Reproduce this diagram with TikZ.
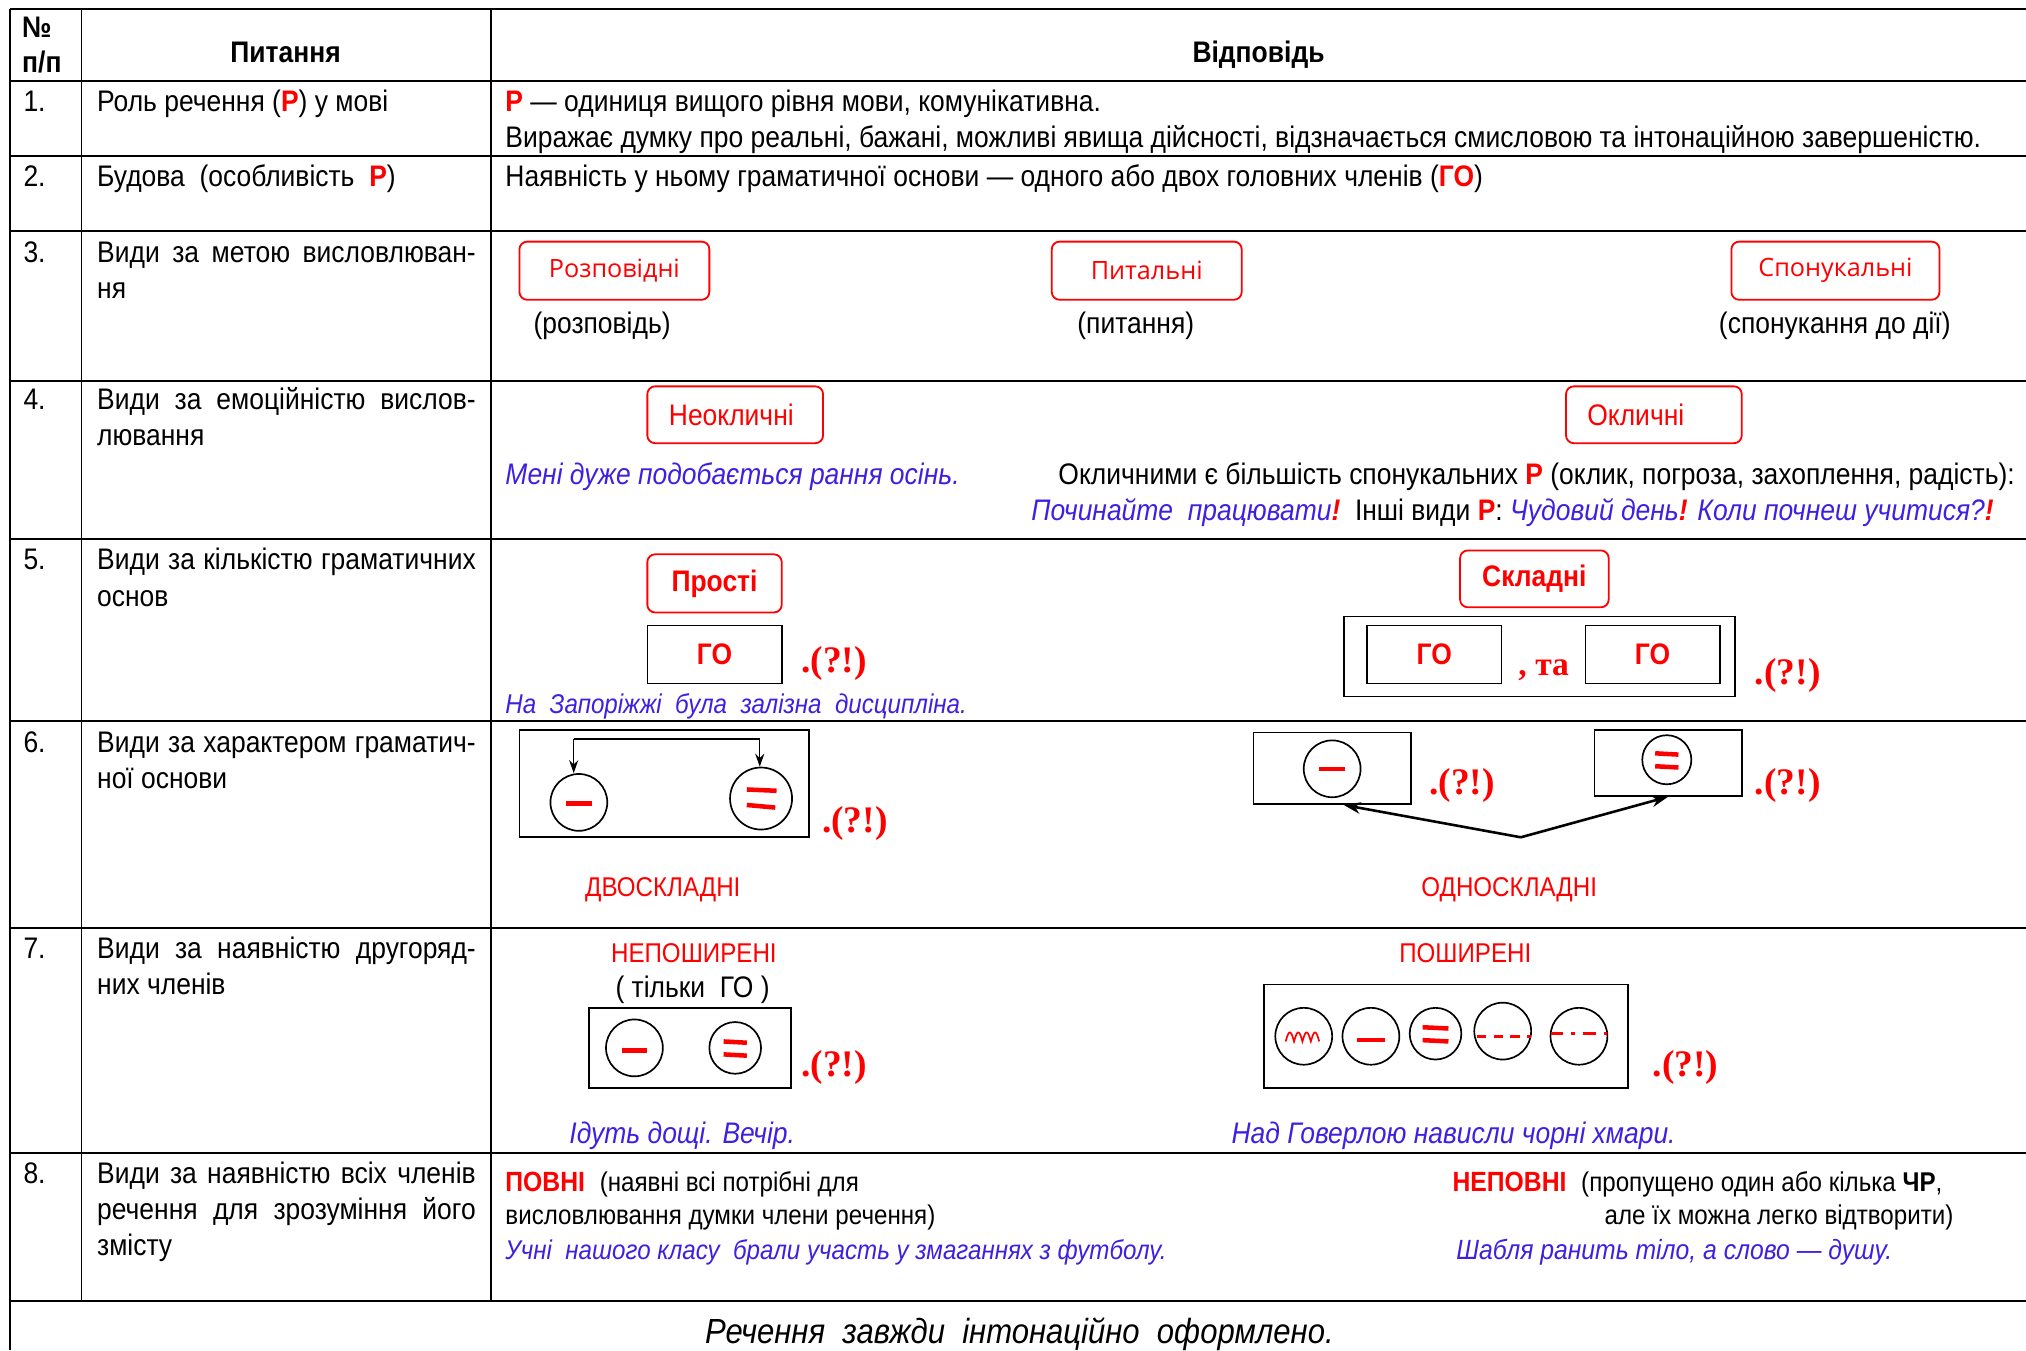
\documentclass[tikz,border=0pt]{standalone}
\usepackage{fontspec}
\setmainfont{Liberation Sans}[FakeStretch=0.89]
\newfontfamily\boxfont{Open Sans}
\newfontfamily\qserif{Liberation Serif}
\usetikzlibrary{arrows.meta}
\definecolor{myred}{RGB}{255,0,0}
\definecolor{myblue}{RGB}{64,32,224}
\newcommand\fm{\fontsize{23}{28}\selectfont}
\newcommand\fsm{\fontsize{21}{25}\selectfont}
\newcommand\flab{\fontsize{21}{25}\selectfont}
\newcommand\qfont{\qserif\bfseries\fontsize{29}{34}\selectfont}
\newcommand\Rb[1]{\textcolor{myred}{\bfseries #1}}
\newcommand\Bi[1]{\textcolor{myblue}{\itshape #1}}
\newcommand\Ri[1]{\textcolor{myred}{\bfseries\itshape #1}}
\newcommand\J[1]{\makebox[293pt][s]{#1}}
\begin{document}
\begin{tikzpicture}[x=1pt,y=-1pt,
  t/.style={anchor=base west, inner sep=0pt, font=\fm},
  tc/.style={anchor=base, inner sep=0pt, font=\fm},
  rbox/.style={draw=myred, line width=1.4pt, rounded corners=6pt, inner sep=0pt, font=\fm, text=myred},
  blk/.style={draw=black, line width=1.3pt, inner sep=0pt},
  circ/.style={draw=black, line width=1.3pt, circle, inner sep=0pt},
  redln/.style={draw=myred, line width=3.5pt},
  qq/.style={anchor=base west, inner sep=0pt, text=myred, font=\qfont},
  gridln/.style={line width=1.6pt},
  thinarr/.style={line width=1pt, -{Stealth[length=10pt,width=7pt]}},
  thickarr/.style={line width=2pt, -{Stealth[length=13pt,width=9pt]}}]
\useasboundingbox (0,0) rectangle (1568,1045);
\fill[white] (0,0) rectangle (1568,1045);
% grid
\foreach \yy in {7,63,121,179,295,417,558,718,892,1007}
  \draw[gridln] (8,\yy) -- (1568,\yy);
\draw[gridln] (8,7) -- (8,1045);
\draw[line width=1.2pt] (63,7) -- (63,1007);
\draw[gridln] (380,7) -- (380,1007);
% header
\node[t,font=\fm\bfseries] (hn1) at (17,29) {№};
\node[t,font=\fm\bfseries] (hn2) at (17,56) {п/п};
\node[tc,font=\fm\bfseries] (hq) at (221,48) {Питання};
\node[tc,font=\fm\bfseries] (ha) at (974,48) {Відповідь};
% row 1
\node[t] (n1) at (18,86) {1.};
\node[t] (q1) at (75,86) {Роль речення (\Rb{Р}) у мові};
\node[t] (a1a) at (391,86) {\Rb{Р} — одиниця вищого рівня мови, комунікативна.};
\node[t] (a1b) at (391,114) {Виражає думку про реальні, бажані, можливі явища дійсності, відзначається смисловою та інтонаційною завершеністю.};
% row 2
\node[t] (n2) at (18,144) {2.};
\node[t] (q2) at (75,144) {Будова\ \ (особливість\ \ \Rb{Р})};
\node[t] (a2) at (391,144) {Наявність у ньому граматичної основи — одного або двох головних членів (\Rb{ГО})};
% row 3
\node[t] (n3) at (18,203) {3.};
\node[t] (q3a) at (75,203) {\J{Види за метою висловлюван-}};
\node[t] (q3b) at (75,231) {ня};
\node[rbox, font=\boxfont\fontsize{19.5}{22}\selectfont, minimum width=147pt, minimum height=45pt] (b31) at (475.5,209.5) {\raisebox{-3pt}{Розповідні}};
\node[rbox, font=\boxfont\fontsize{19.5}{22}\selectfont, minimum width=147pt, minimum height=45pt] (b32) at (887.5,209.5) {\raisebox{-3pt}{Питальні}};
\node[rbox, font=\boxfont\fontsize{19.5}{22}\selectfont, minimum width=161pt, minimum height=45pt] (b33) at (1420.5,209.5) {\raisebox{-3pt}{Спонукальні}};
\node[tc] (p31) at (466,258) {(розповідь)};
\node[tc] (p32) at (879,258) {(питання)};
\node[tc] (p33) at (1420,258) {(спонукання до дії)};
% row 4
\node[t] (n4) at (18,317) {4.};
\node[t] (q4a) at (75,317) {\J{Види за емоційністю вислов-}};
\node[t] (q4b) at (75,345) {лювання};
\node[rbox, minimum width=136pt, minimum height=44pt] (b41) at (569,321) {\hspace*{-6pt}Неокличні};
\node[rbox, minimum width=136pt, minimum height=44pt] (b42) at (1280,321) {\hspace*{-28pt}Окличні};
\node[t] (e41) at (391,375) {\Bi{Мені дуже подобається рання осінь.}};
\node[t] (e42) at (819,375) {Окличними є більшість спонукальних \Rb{Р} (оклик, погроза, захоплення, радість):};
\node[t] (e43) at (798,403) {\Bi{Починайте\ \ працювати}\Ri{!}\ \ Інші види \Rb{Р}: \Bi{Чудовий день}\Ri{!} \Bi{Коли почнеш учитися?}\Ri{!}};
% row 5
\node[t] (n5) at (18,441) {5.};
\node[t] (q5a) at (75,441) {\J{Види за кількістю граматичних}};
\node[t] (q5b) at (75,469) {основ};
\node[rbox, font=\fm\bfseries, minimum width=104pt, minimum height=45pt] (b51) at (553,451.5) {\raisebox{-1.5pt}{Прості}};
\node[blk, minimum width=104pt, minimum height=45pt, text=myred, font=\fm\bfseries] (g51) at (553,506.5) {ГО};
\node[qq] (q51) at (620,520.5) {.(?!)};
\node[t, font=\fontsize{21}{25}\selectfont] (e51) at (391,552) {\Bi{На\ \ Запоріжжі\ \ була\ \ залізна\ \ дисципліна.}};
\node[rbox, font=\fm\bfseries, minimum width=115pt, minimum height=44pt] (b52) at (1187.5,448) {\raisebox{-1.5pt}{Складні}};
\node[blk, minimum width=303pt, minimum height=62pt] (o52) at (1191.5,508) {};
\node[blk, minimum width=104pt, minimum height=45pt, text=myred, font=\fm\bfseries] (g52) at (1110,506.5) {ГО};
\node[blk, minimum width=104pt, minimum height=45pt, text=myred, font=\fm\bfseries] (g53) at (1279,506.5) {ГО};
\node[anchor=base west, inner sep=0pt, text=myred, font=\qserif\bfseries\fontsize{26}{30}\selectfont] (ta) at (1175,523) {, та};
\node[qq] (q52) at (1358,529.5) {.(?!)};
% row 6
\node[t] (n6) at (18,582) {6.};
\node[t] (q6a) at (75,582) {\J{Види за характером граматич-}};
\node[t] (q6b) at (75,610) {ної основи};
\node[blk, minimum width=224pt, minimum height=83pt] (b61) at (514,606.5) {};
\node[circ, minimum size=44pt] (c61) at (448,621) {};
\node[circ, minimum size=48pt] (c62) at (589,618) {};
\coordinate (brL) at (444,572);
\coordinate (brR) at (588,572);
\draw[line width=1.3pt] (brL) -- (brR);
\draw[thinarr] (brL) -- (brL |- c61.north);
\draw[thinarr] (brR) -- (brR |- c62.north);
\draw[redln] (438,622) -- (458,622);
\draw[redln] (578,611) -- (601,612);
\draw[redln] (578,623) -- (600,625);
\node[qq] (q61) at (636,644.5) {.(?!)};
\node[tc, text=myred, font=\flab] (l61) at (513,694) {ДВОСКЛАДНІ};
\node[blk, minimum width=122pt, minimum height=55pt] (bx1) at (1031,594.5) {};
\node[blk, minimum width=114pt, minimum height=51pt] (bx2) at (1291,590.5) {};
\node[circ, minimum size=44pt] (c63) at (1031,595) {};
\node[circ, minimum size=38pt] (c64) at (1290,588) {};
\draw[redln] (1021,595) -- (1041,595);
\draw[redln] (1281,583) -- (1299,584);
\draw[redln] (1281,593) -- (1299,594);
\node[qq] (q62) at (1106,614.5) {.(?!)};
\node[qq] (q63) at (1358,614.5) {.(?!)};
\coordinate (apex) at (1177,648);
\coordinate (tip1) at (1040,623);
\draw[thickarr] (apex) -- (tip1);
\draw[thickarr] (apex) -- (bx2.south);
\node[tc, text=myred, font=\flab] (l62) at (1168,694) {ОДНОСКЛАДНІ};
% row 7
\node[t] (n7) at (18,742) {7.};
\node[t] (q7a) at (75,742) {\J{Види за наявністю другоряд-}};
\node[t] (q7b) at (75,770) {них членів};
\node[tc, text=myred, font=\flab] (l71) at (537,745) {НЕПОШИРЕНІ};
\node[tc] (l72) at (536,772) {( тільки\ \ ГО )};
\node[blk, minimum width=156pt, minimum height=62pt] (b71) at (534,811) {};
\node[circ, minimum size=44pt] (c71) at (491,811) {};
\node[circ, minimum size=40pt] (c72) at (569,811) {};
\draw[redln] (481,813) -- (501,813);
\draw[redln] (560,806) -- (578,807);
\draw[redln] (560,816) -- (578,817);
\node[qq] (q71) at (620,833.5) {.(?!)};
\node[tc, text=myred, font=\flab] (l73) at (1134,745) {ПОШИРЕНІ};
\node[blk, minimum width=282pt, minimum height=80pt] (b72) at (1119,802) {};
\node[circ, minimum size=44pt] (c73) at (1009,802) {};
\node[circ, minimum size=44pt] (c74) at (1061,802) {};
\node[circ, minimum size=40pt] (c75) at (1111,800) {};
\node[circ, minimum size=44pt] (c76) at (1163,798) {};
\node[circ, minimum size=44pt] (c77) at (1222,802) {};
\draw[myred, line width=1.3pt] plot[domain=0:1, samples=61, smooth] ({995+26*\x},{806-7*abs(sin(\x*4*180))});
\draw[redln] (1050,805) -- (1072,805);
\draw[redln] (1101,795) -- (1121,796);
\draw[redln] (1101,805) -- (1121,806);
\draw[draw=myred, line width=2.5pt, dash pattern=on 7pt off 6pt] (1143,802) -- (1185,802);
\draw[draw=myred, line width=2.5pt, dash pattern=on 10pt off 6pt on 3pt off 6pt] (1200,800) -- (1244,800);
\node[qq] (q72) at (1279,833.5) {.(?!)};
\node[tc] (e71) at (528,885) {\Bi{Ідуть дощі. Вечір.}};
\node[tc] (e72) at (1125,885) {\Bi{Над Говерлою нависли чорні хмари.}};
% row 8
\node[t] (n8) at (18,916) {8.};
\node[t] (q8a) at (75,916) {\J{Види за наявністю всіх членів}};
\node[t] (q8b) at (75,944) {\J{речення для зрозуміння його}};
\node[t] (q8c) at (75,972) {змісту};
\node[t] (a8a) at (391,922) {\Rb{\fontsize{21.5}{24}\selectfont ПОВНІ}\ \ {\fsm(наявні всі потрібні для}};
\node[t, font=\fsm] (a8b) at (391,948) {висловлювання думки члени речення)};
\node[t, font=\fontsize{21}{26}\selectfont] (a8c) at (391,975) {\Bi{Учні\ \ нашого класу\ \ брали участь у змаганнях з футболу.}};
\node[t] (a8d) at (1124,922) {\Rb{\fontsize{21.5}{24}\selectfont НЕПОВНІ}\ \ {\fsm(пропущено один або кілька \textbf{ЧР},}};
\node[anchor=base east, inner sep=0pt, font=\fsm] (a8e) at (1512,948) {але їх можна легко відтворити)};
\node[t, font=\fontsize{21.5}{26}\selectfont] (a8f) at (1127,975) {\Bi{Шабля ранить тіло, а слово — душу.}};
% footer
\node[tc, font=\fontsize{27}{32}\selectfont\itshape] (ft) at (789,1040) {Речення\ \ завжди\ \ інтонаційно\ \ оформлено.};
\end{tikzpicture}
\end{document}
